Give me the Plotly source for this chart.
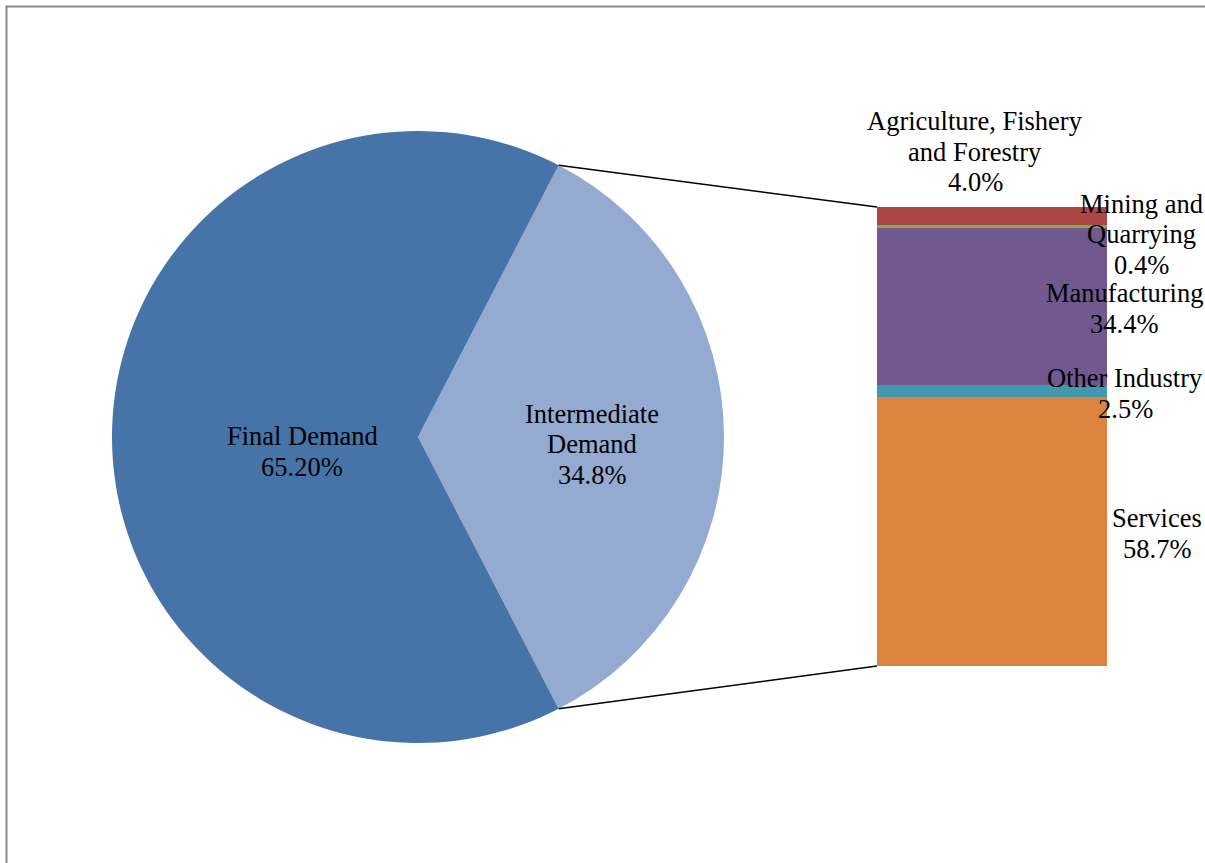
""" Bar-of-pie chart: share of final vs intermediate demand, with intermediate split by sector """
import math
import plotly.graph_objects as go

# pie data
pie_labels = ['Intermediate Demand', 'Final Demand']
pie_values = [34.8, 65.2]
pie_text = ['Intermediate<br>Demand<br>34.8%', 'Final Demand<br>65.20%']
pie_colors = ['#95AAD1', '#4674A8']

# bar (breakdown of intermediate demand), listed bottom to top
bar_labels = ['Services', 'Other Industry', 'Manufacturing', 'Mining and Quarrying',
              'Agriculture, Fishery and Forestry']
bar_values = [58.7, 2.5, 34.4, 0.4, 4.0]
bar_text = ['Services<br>58.7%', 'Other Industry<br>2.5%', 'Manufacturing<br>34.4%',
            'Mining and<br>Quarrying<br>0.4%', 'Agriculture, Fishery<br>and Forestry<br>4.0%']
bar_colors = ['#DB843D', '#4198AF', '#71588F', '#89A54E', '#AA4643']

W, H = 1205, 863
FONT = 'Liberation Serif'
FS = 26.5
LINE_H = 30.5

# geometry in pixels
PIE_CX, PIE_CY, PIE_R = 418, 437, 306
BAR_X0, BAR_X1, BAR_TOP, BAR_BOTTOM = 877, 1107, 207, 666


def px(x):
    return x / W


def py(y):
    return 1 - y / H


fig = go.Figure()

# intermediate slice centred at 3 o'clock
rotation = 90 - pie_values[0] * 360 / sum(pie_values) / 2
fig.add_trace(go.Pie(
    labels=pie_labels, values=pie_values, sort=False, direction='clockwise',
    rotation=rotation, textinfo='none', hoverinfo='label+value',
    marker=dict(colors=pie_colors, line=dict(width=0)),
    domain=dict(x=[px(PIE_CX - PIE_R), px(PIE_CX + PIE_R)],
                y=[py(PIE_CY + PIE_R), py(PIE_CY - PIE_R)]),
    showlegend=False,
))

for lab, val, col in zip(bar_labels, bar_values, bar_colors):
    fig.add_trace(go.Bar(x=[0], y=[val], name=lab, width=1,
                         marker=dict(color=col, line=dict(width=0)),
                         showlegend=False))

fig.update_layout(
    width=W, height=H, autosize=False,
    margin=dict(l=0, r=0, t=0, b=0),
    paper_bgcolor='white', plot_bgcolor='rgba(0,0,0,0)',
    barmode='stack', bargap=0,
    xaxis=dict(domain=[px(BAR_X0), px(BAR_X1)], range=[-0.5, 0.5], visible=False, fixedrange=True),
    yaxis=dict(domain=[py(BAR_BOTTOM), py(BAR_TOP)], range=[0, sum(bar_values)], visible=False, fixedrange=True),
    font=dict(family=FONT, size=FS, color='black'),
)

# connector lines from the edges of the intermediate slice to the bar corners
t = math.radians(rotation)
ex = PIE_CX + PIE_R * math.sin(t)
ey_top = PIE_CY - PIE_R * math.cos(t)
ey_bot = PIE_CY + PIE_R * math.cos(t)
for ey, by in [(ey_top, BAR_TOP), (ey_bot, BAR_BOTTOM)]:
    fig.add_shape(type='line', xref='paper', yref='paper',
                  x0=px(ex), y0=py(ey), x1=px(BAR_X0), y1=py(by),
                  line=dict(color='black', width=1.5))

# chart frame (only top and left visible)
fig.add_shape(type='path', xref='paper', yref='paper',
              path=f'M {px(6.5)} {py(H + 5)} L {px(6.5)} {py(6.5)} L {px(W + 5)} {py(6.5)}',
              line=dict(color='#898989', width=2))


def add_label(text, cx, cy_first):
    # one annotation per line so the line spacing matches the original
    for i, line in enumerate(text.split('<br>')):
        fig.add_annotation(text=line, xref='paper', yref='paper',
                           x=px(cx), y=py(cy_first + i * LINE_H),
                           xanchor='center', yanchor='middle', showarrow=False,
                           font=dict(family=FONT, size=FS, color='black'))


# label positions (pixels)
add_label(pie_text[1], 302, 436)
add_label(pie_text[0], 592, 414)

bar_label_pos = [(1157, 518), (1125, 378), (1124, 293), (1141, 204), (975, 121)]
for txt, (cx, cy) in zip(bar_text, bar_label_pos):
    add_label(txt, cx, cy)

# drop the default page margin so the figure sits at the window's corner
fig.write_html("out.html", config={'displayModeBar': False},
               post_script="document.body.style.margin='0';")
